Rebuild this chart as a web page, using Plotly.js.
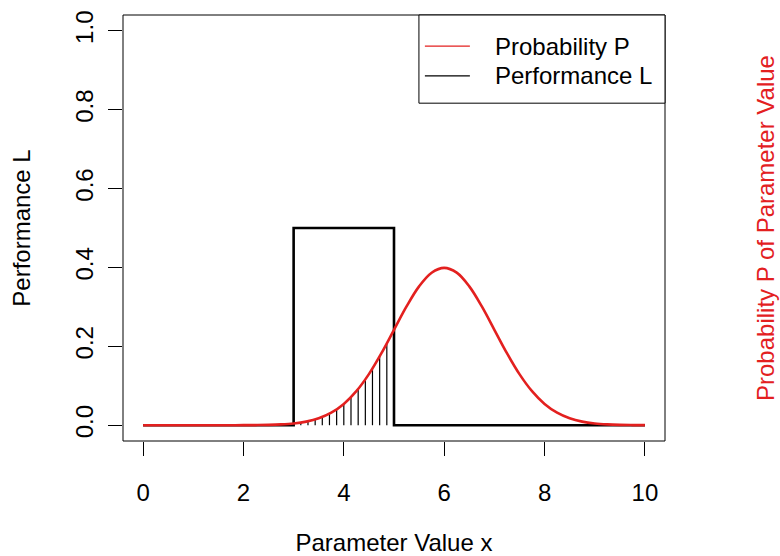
<!DOCTYPE html>
<html>
<head>
<meta charset="utf-8">
<script src="https://cdn.plot.ly/plotly-3.0.1.min.js"></script>
<style>html,body{margin:0;padding:0;background:#fff;}#chart{width:780px;height:556px;}</style>
</head>
<body>
<div id="chart"></div>
<script>
// Probability P (red curve)
const probX = [0,0.25,0.5,0.75,1,1.25,1.5,1.75,2,2.25,2.5,2.75,3,3.25,3.5,3.75,4,4.25,4.5,4.75,5,5.25,5.5,5.75,6,6.25,6.5,6.75,7,7.25,7.5,7.75,8,8.25,8.5,8.75,9,9.25,9.5,9.75,10];
const probY = [0,0,0,0,0.000002,0.000005,0.000016,0.000048,0.000134,0.00035,0.00087,0.00203,0.00443,0.00909,0.01753,0.03174,0.05399,0.08628,0.12952,0.18265,0.24197,0.30114,0.35207,0.38667,0.39894,0.38667,0.35207,0.30114,0.24197,0.18265,0.12952,0.08628,0.05399,0.03174,0.01753,0.00909,0.00443,0.00203,0.00087,0.00035,0.000134];
// Performance L (black step)
const perfX = [0,3,3,5,5,10];
const perfY = [0,0,0.5,0.5,0,0];
// Hatch lines under the red curve between x=3 and x=5
const hatchX = [3.143,3.286,3.429,3.571,3.714,3.857,4.0,4.143,4.286,4.429,4.571,4.714,4.857];
const hatchTop = [0.0067,0.0100,0.0146,0.0209,0.0293,0.0402,0.0540,0.0711,0.0919,0.1161,0.1438,0.1746,0.2076];
// Axis ticks
const xTicks = [0,2,4,6,8,10];
const yTicks = [0,0.2,0.4,0.6,0.8,1.0];
const legendNames = ["Probability P","Performance L"];

const FONT = "Liberation Sans, Arial, sans-serif";
const RED = "#e3201f";

const hx = [], hy = [];
hatchX.forEach((x,i)=>{ hx.push(x,x,null); hy.push(0,hatchTop[i],null); });

const traces = [
  {x: perfX, y: perfY, mode: "lines", line: {color: "black", width: 2.6}, hoverinfo: "skip", showlegend: false},
  {x: hx, y: hy, mode: "lines", line: {color: "black", width: 1.2}, hoverinfo: "skip", showlegend: false},
  {x: probX, y: probY, mode: "lines", line: {color: RED, width: 2.6, shape: "spline"}, hoverinfo: "skip", showlegend: false}
];

const lx0 = 0.546, ly0 = 0.793;
const layout = {
  width: 780, height: 556,
  margin: {l: 123, r: 115, t: 15, b: 115},
  paper_bgcolor: "#fff", plot_bgcolor: "#fff",
  font: {family: FONT, size: 24, color: "black"},
  showlegend: false,
  xaxis: {
    range: [-0.4, 10.4], tickvals: xTicks, ticktext: xTicks.map(String),
    ticks: "outside", ticklen: 14, tickwidth: 1, tickcolor: "black",
    showgrid: false, zeroline: false, showline: false,
    ticklabelstandoff: 16,
    title: {text: "Parameter Value x", font: {size: 24}, standoff: 30}
  },
  yaxis: {
    range: [-0.04, 1.04], tickvals: yTicks, ticktext: yTicks.map(v=>v.toFixed(1)),
    tickangle: -90,
    ticks: "outside", ticklen: 14, tickwidth: 1, tickcolor: "black",
    showgrid: false, zeroline: false, showline: false,
    ticklabelstandoff: 5,
    title: {text: "Performance L", font: {size: 24}, standoff: 34}
  },
  shapes: [
    {type: "rect", xref: "paper", yref: "paper", x0: 0, x1: 1, y0: 0, y1: 1, line: {color: "black", width: 1}},
    {type: "rect", xref: "paper", yref: "paper", x0: lx0, x1: 1, y0: ly0, y1: 1, line: {color: "black", width: 1}, fillcolor: "white"},
    {type: "line", xref: "paper", yref: "paper", x0: 0.557, x1: 0.640, y0: 0.927, y1: 0.927, line: {color: RED, width: 1.3}},
    {type: "line", xref: "paper", yref: "paper", x0: 0.557, x1: 0.640, y0: 0.857, y1: 0.857, line: {color: "black", width: 1.3}}
  ],
  annotations: [
    {xref: "paper", yref: "paper", x: 0.683, y: 0.927, xanchor: "left", yanchor: "middle", text: legendNames[0], showarrow: false, font: {size: 24}},
    {xref: "paper", yref: "paper", x: 0.683, y: 0.857, xanchor: "left", yanchor: "middle", text: legendNames[1], showarrow: false, font: {size: 24}},
    {xref: "paper", yref: "paper", x: 1.1845, y: 0.5, xanchor: "center", yanchor: "middle", textangle: -90, text: "Probability P of Parameter Value", showarrow: false, font: {size: 24, color: RED}}
  ]
};

Plotly.newPlot("chart", traces, layout, {staticPlot: true, displayModeBar: false});
</script>
</body>
</html>
